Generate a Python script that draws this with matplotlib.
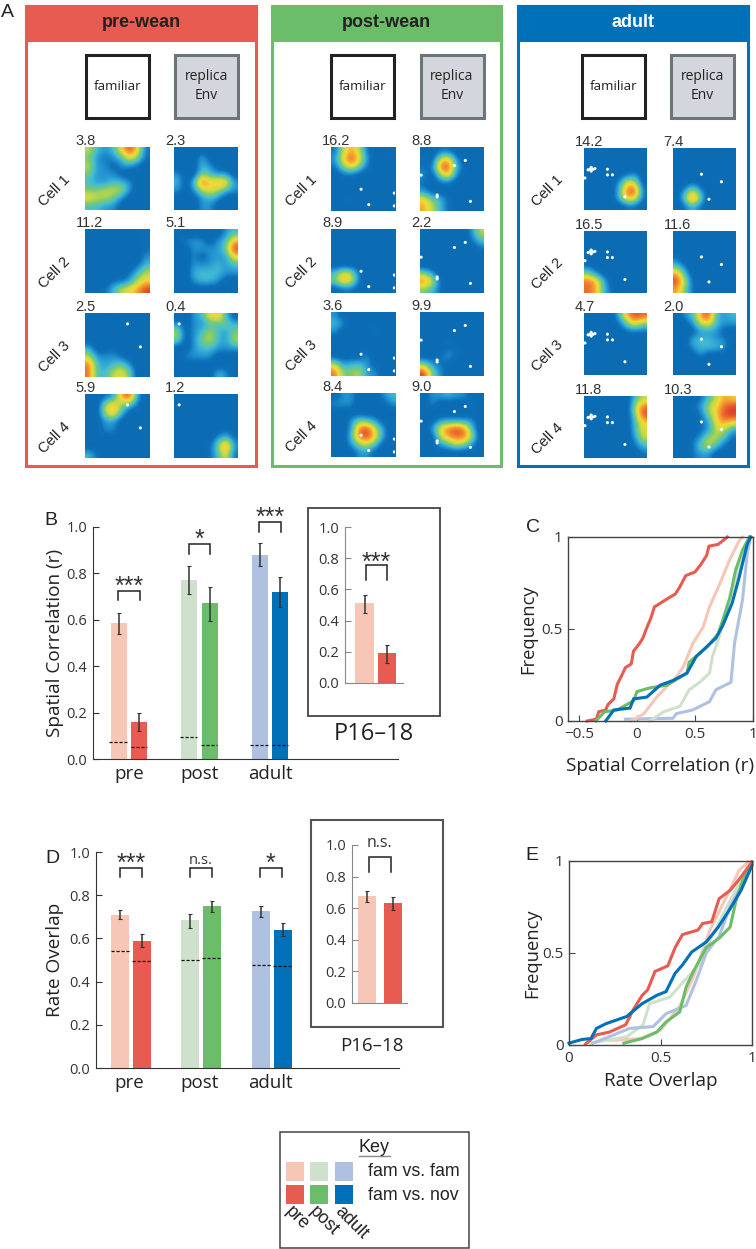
import numpy as np
import matplotlib
matplotlib.use("Agg")
import matplotlib.pyplot as plt
from matplotlib.colors import LinearSegmentedColormap
from matplotlib.patches import Rectangle

W, H = 756, 1249
AX_FONT = "Open Sans"
HV_FONT = "Liberation Sans"

RED, LRED = "#e85b50", "#f6c7b7"
GRN, LGRN = "#6cbd69", "#cfe1cd"
BLU, LBLU = "#0071b9", "#afc1e1"

# --- panel A: coarse firing-rate maps (digit = colour level)
pre_fam = [
    ["53236961", "42123641", "52202210", "42220000", "32233200", "44555200", "65542000", "33220000"],
    ["00000001", "00000001", "00000001", "00000002", "00000013", "00000135", "00011256", "00135679"],
    ["00010000", "00000000", "00000000", "00000000", "30010000", "52221000", "83234200", "83356400"],
    ["00127920", "00574310", "00573000", "00220000", "00220000", "00000000", "00000000", "31000000"],
]
pre_rep = [
    ["00000000", "00030000", "00032000", "20043220", "30396772", "20256532", "00023200", "00022000"],
    ["00000023", "02220237", "00222249", "00202226", "00222323", "00333322", "00233200", "00000000"],
    ["00236730", "20223343", "50235324", "40245325", "00233222", "02222000", "00000000", "00000320"],
    ["00000000", "00000000", "00000000", "00000000", "00000010", "00000231", "00001492", "00001361"],
]
post_fam = [
    ["15751000", "26962000", "14641000", "01100000", "00000000", "00000000", "01100000", "00000000"],
    ["00000000", "00000000", "00000000", "00000000", "00000000", "36510000", "47610000", "01100000"],
    ["20000000", "32000000", "20000200", "00000000", "00000000", "00002000", "52332000", "84452200"],
    ["02200023", "22200002", "00000000", "00243200", "00289520", "00389620", "00245300", "00022000"],
]
post_rep = [
    ["00110000", "10572000", "11893100", "20472000", "10110000", "20000000", "64310000", "75310000"],
    ["00000025", "00000013", "00000001", "00000000", "00000000", "42000000", "86100000", "43100000"],
    ["00000000", "00000000", "00000000", "00010000", "00011000", "00121000", "42110000", "94200000"],
    ["02232200", "02000020", "00000000", "00222220", "02689830", "00578850", "00235420", "00000000"],
]
adult_fam = [
    ["00000000", "00000000", "00000000", "00000120", "00002650", "00003891", "00003761", "00000110"],
    ["00000000", "00000000", "00000000", "00000000", "10000000", "42000000", "87300000", "87310000"],
    ["00003798", "00001464", "00000111", "00000000", "00000000", "00000000", "00000000", "00000000"],
    ["00000035", "00000058", "00000049", "00000036", "00000036", "00000025", "00000013", "00000001"],
]
adult_rep = [
    ["00000000", "00000000", "00000000", "00000000", "00100000", "02520000", "04940000", "01310000"],
    ["00000000", "00000000", "00000000", "10000000", "31000000", "73000000", "95100000", "74100000"],
    ["02379323", "00256322", "00022200", "00333220", "00233320", "00020000", "00000000", "00000000"],
    ["00013576", "00125689", "00014699", "00012676", "00012552", "00125531", "00145310", "00122000"],
]
pre_fam_rates = ["3.8", "11.2", "2.5", "5.9"]
pre_rep_rates = ["2.3", "5.1", "0.4", "1.2"]
post_fam_rates = ["16.2", "8.9", "3.6", "8.4"]
post_rep_rates = ["8.8", "2.2", "9.9", "9.0"]
adult_fam_rates = ["14.2", "16.5", "4.7", "11.8"]
adult_rep_rates = ["7.4", "11.6", "2.0", "10.3"]

# unvisited pixels, as fractions of the map
post_fam_holes = [(.47, .66), (.59, .90), (.99, .72), (.99, .92)]
post_rep_holes = [(.53, .29), (.70, .21), (.01, .44), (.26, .75), (.26, .78), (.78, .85)]
adult_fam_holes = [(.07, .35), (.10, .34), (.12, .31), (.12, .37), (.15, .34), (.18, .33),
                   (.38, .34), (.38, .43), (.46, .43), (.02, .48), (.66, .78)]
adult_rep_holes = [(.46, .42), (.78, .54), (.58, .82)]
pre_holes_fam = [(.67, .17), (.87, .53)]
pre_holes_rep = [(.08, .17)]

# --- panel B
groups = ["pre", "post", "adult"]
spatial_fam = [0.585, 0.77, 0.88]
spatial_fam_lo = [0.54, 0.71, 0.83]
spatial_fam_hi = [0.63, 0.83, 0.93]
spatial_nov = [0.16, 0.67, 0.72]
spatial_nov_lo = [0.12, 0.595, 0.655]
spatial_nov_hi = [0.20, 0.74, 0.785]
spatial_chance_fam = [0.075, 0.095, 0.063]
spatial_chance_nov = [0.055, 0.063, 0.060]
spatial_sig = ["***", "*", "***"]
spatial_inset = [0.51, 0.19]
spatial_inset_lo = [0.45, 0.13]
spatial_inset_hi = [0.565, 0.245]

# --- panel D
overlap_fam = [0.71, 0.685, 0.725]
overlap_fam_lo = [0.69, 0.65, 0.70]
overlap_fam_hi = [0.73, 0.715, 0.75]
overlap_nov = [0.59, 0.75, 0.64]
overlap_nov_lo = [0.56, 0.72, 0.61]
overlap_nov_hi = [0.62, 0.775, 0.67]
overlap_chance_fam = [0.54, 0.50, 0.475]
overlap_chance_nov = [0.495, 0.51, 0.47]
overlap_sig = ["***", "n.s.", "*"]
overlap_inset = [0.68, 0.63]
overlap_inset_lo = [0.64, 0.59]
overlap_inset_hi = [0.71, 0.67]

# --- panel C cumulative curves
c_lred_x = [-0.05, 0.06, 0.17, 0.34, 0.40, 0.48, 0.57, 0.625, 0.71, 0.795, 0.88, 0.91]
c_lred_y = [0, 0.04, 0.13, 0.24, 0.295, 0.42, 0.51, 0.62, 0.74, 0.87, 0.98, 1]
c_lgrn_x = [0.11, 0.23, 0.37, 0.45, 0.54, 0.625, 0.65, 0.70, 0.80, 0.88, 0.97]
c_lgrn_y = [0, 0.05, 0.08, 0.17, 0.21, 0.26, 0.35, 0.44, 0.66, 0.84, 1]
c_lblu_x = [-0.10, 0.31, 0.34, 0.48, 0.625, 0.68, 0.81, 0.84, 0.91, 0.95, 0.98]
c_lblu_y = [0.01, 0.015, 0.04, 0.06, 0.105, 0.17, 0.21, 0.42, 0.66, 0.91, 1]
c_red_x = [-0.43, -0.35, -0.33, -0.27, -0.25, -0.2, -0.17, -0.13, -0.1, -0.05, -0.03, 0.02, 0.05, 0.08,
           0.12, 0.15, 0.25, 0.33, 0.37, 0.42, 0.5, 0.55, 0.6, 0.62, 0.7, 0.78]
c_red_y = [0, 0.01, 0.05, 0.06, 0.09, 0.12, 0.2, 0.25, 0.29, 0.31, 0.38, 0.42, 0.45, 0.5,
           0.56, 0.62, 0.66, 0.69, 0.73, 0.79, 0.81, 0.85, 0.9, 0.95, 0.96, 1.0]
c_grn_x = [-0.355, -0.28, -0.17, -0.03, 0, 0.11, 0.26, 0.43, 0.45, 0.6, 0.7, 0.74, 0.8, 0.85, 0.91, 0.97]
c_grn_y = [0, 0.05, 0.06, 0.11, 0.16, 0.18, 0.195, 0.26, 0.32, 0.40, 0.475, 0.55, 0.67, 0.82, 0.93, 1]
c_blu_x = [-0.27, -0.2, -0.06, -0.03, 0.085, 0.2, 0.31, 0.43, 0.51, 0.68, 0.74, 0.82, 0.88, 0.95, 0.98]
c_blu_y = [0, 0.06, 0.07, 0.12, 0.13, 0.195, 0.22, 0.26, 0.35, 0.45, 0.52, 0.64, 0.78, 0.96, 1]

# --- panel E cumulative curves
e_lred_x = [0.22, 0.39, 0.5, 0.605, 0.68, 0.77, 0.86, 0.93, 0.98]
e_lred_y = [0.025, 0.035, 0.08, 0.21, 0.37, 0.625, 0.805, 0.95, 0.995]
e_lgrn_x = [0.115, 0.315, 0.405, 0.44, 0.55, 0.64, 0.715, 0.77, 0.84, 0.93, 1]
e_lgrn_y = [0.01, 0.045, 0.11, 0.225, 0.26, 0.36, 0.44, 0.57, 0.705, 0.88, 0.995]
e_lblu_x = [0.13, 0.22, 0.33, 0.46, 0.53, 0.64, 0.695, 0.75, 0.82, 0.88, 0.95, 1]
e_lblu_y = [0.01, 0.045, 0.09, 0.10, 0.17, 0.215, 0.35, 0.5, 0.59, 0.75, 0.88, 0.995]
e_red_x = [0.09, 0.15, 0.22, 0.31, 0.35, 0.40, 0.43, 0.47, 0.54, 0.58, 0.62, 0.705, 0.73, 0.78, 0.82, 0.88, 0.93, 1]
e_red_y = [0.005, 0.055, 0.07, 0.11, 0.19, 0.27, 0.30, 0.40, 0.43, 0.53, 0.60, 0.625, 0.66, 0.67, 0.795, 0.84, 0.90, 0.995]
e_grn_x = [0.3, 0.4, 0.48, 0.53, 0.605, 0.64, 0.68, 0.75, 0.82, 0.88, 0.915, 0.95, 1]
e_grn_y = [0.01, 0.035, 0.07, 0.125, 0.18, 0.315, 0.40, 0.53, 0.58, 0.64, 0.795, 0.895, 0.985]
e_blu_x = [0, 0.07, 0.12, 0.15, 0.2, 0.315, 0.4, 0.48, 0.53, 0.58, 0.62, 0.67, 0.75, 0.815, 0.88, 0.94, 1]
e_blu_y = [0.01, 0.03, 0.035, 0.09, 0.115, 0.155, 0.225, 0.27, 0.29, 0.39, 0.435, 0.505, 0.56, 0.64, 0.74, 0.84, 0.975]

# low levels stay close to the blue background so the fields keep tight edges
rate_cmap = LinearSegmentedColormap.from_list(
    "rate", ["#0b6bb3", "#0d70b8", "#2496d2", "#44bed2", "#7cca70",
             "#c4da48", "#f2d838", "#f4a030", "#ec6a2c", "#d83c2c"])


def pax(x0, y0, x1, y1, **kw):
    # axes placed by picture pixels (y counted from the top)
    return fig.add_axes([x0 / W, 1 - y1 / H, (x1 - x0) / W, (y1 - y0) / H], **kw)


def draw_map(x0, y0, size, rows, rate, holes, rate_dx):
    ax = pax(x0, y0, x0 + size, y0 + size)
    grid = np.array([[int(c) for c in r] for r in rows], dtype=float)
    ax.imshow(grid, cmap=rate_cmap, vmin=0, vmax=9, interpolation="bicubic",
              aspect="auto", extent=(0, 1, 1, 0))
    if holes:
        hx, hy = zip(*holes)
        ax.scatter(hx, hy, s=5, color="white", edgecolors="none", clip_on=True, zorder=3)
    ax.set_xlim(0, 1)
    ax.set_ylim(1, 0)
    ax.axis("off")
    page.text(x0 + rate_dx, y0 - 6, rate, fontsize=10.5, family=HV_FONT, color="#333333",
              ha="left", va="center")


def draw_condition(name, x0, x1, colour, txt_colour, fam_x, rep_x, box_dx, tops, size, fam, rep,
                   fam_rates, rep_rates, fam_holes, rep_holes, cell_x):
    page.add_patch(Rectangle((x0, 6), x1 - x0, 460, fc="white", ec=colour, lw=2.2))
    page.add_patch(Rectangle((x0, 6), x1 - x0, 34, fc=colour, ec=colour, lw=2.2))
    page.text((x0 + x1) / 2, 22, name, fontsize=13, fontweight="bold", family=HV_FONT,
              color=txt_colour, ha="center", va="center")
    page.add_patch(Rectangle((fam_x + box_dx + 1, 55), 63, 63, fc="white", ec="#222222", lw=2.2))
    page.add_patch(Rectangle((rep_x + box_dx + 1, 55), 63, 63, fc="#d3d7dd", ec="#6c7579", lw=2.2))
    page.text(fam_x + box_dx + 32.5, 86, "familiar", fontsize=9.7, family=AX_FONT,
              color="#222222", ha="center", va="center")
    page.text(rep_x + box_dx + 32.5, 86, "replica\nEnv", fontsize=10, family=AX_FONT,
              color="#222222", ha="center", va="center", linespacing=1.35)
    for i, top in enumerate(tops):
        fh = fam_holes[i] if isinstance(fam_holes, dict) else fam_holes
        rh = rep_holes[i] if isinstance(rep_holes, dict) else rep_holes
        draw_map(fam_x, top, size, fam[i], fam_rates[i], fh, -9)
        draw_map(rep_x, top, size, rep[i], rep_rates[i], rh, -9)
        page.text(cell_x, top + size / 2 + 12, f"Cell {i + 1}", fontsize=10.5, family=HV_FONT,
                  color="#222222", rotation=45, ha="center", va="center")


def style_bar_axes(ax, spine_col):
    for side in ("top", "right"):
        ax.spines[side].set_visible(False)
    ax.spines["left"].set_color(spine_col)
    ax.spines["bottom"].set_color(spine_col)
    ax.patch.set_alpha(0)
    ax.set_ylim(0, 1)
    ax.set_yticks([0, 0.2, 0.4, 0.6, 0.8, 1.0])
    ax.set_yticklabels(["0.0", "0.2", "0.4", "0.6", "0.8", "1.0"], fontsize=10.5,
                       family=AX_FONT, color="#333333")
    ax.tick_params(axis="y", direction="in", length=4, width=0.8, color=spine_col, pad=4)


def bracket(ax, x1, x2, y_low, y_top, label, star_gap, ns_gap, ns_size=10.5):
    ax.plot([x1, x1, x2, x2], [y_low, y_top, y_top, y_low], color="#222222", lw=1.1,
            clip_on=False, solid_joinstyle="miter")
    mid = (x1 + x2) / 2
    if label == "n.s.":
        ax.text(mid, y_top + ns_gap, label, fontsize=ns_size, family=AX_FONT, color="#333333",
                ha="center", va="baseline", clip_on=False)
    else:
        ax.text(mid, y_top - star_gap, label, fontsize=18, family=HV_FONT, color="#333333",
                ha="center", va="baseline", clip_on=False)


def draw_bars(ax, xs, w, values, lo, hi, colours, err_w=1.1):
    for x, v, a, b, c in zip(xs, values, lo, hi, colours):
        ax.bar(x, v, width=w, color=c, linewidth=0)
        ax.errorbar(x, v, yerr=[[v - a], [b - v]], color="#333333", lw=err_w, capsize=1.2,
                    capthick=0.8)


def draw_cdf(ax, curves, lw=2.2):
    for xs, ys, c in curves:
        ax.plot(xs, ys, color=c, lw=lw, solid_joinstyle="miter", clip_on=False)
    for side in ax.spines.values():
        side.set_color("#444444")
        side.set_linewidth(1.0)
    ax.set_ylim(0, 1)
    ax.set_yticks([0, 0.5, 1])
    ax.set_yticklabels(["0", "0.5", "1"], fontsize=11, family=AX_FONT, color="#333333")
    ax.tick_params(direction="in", length=4, width=0.8, color="#444444", pad=4)


fig = plt.figure(figsize=(W / 100, H / 100), dpi=100)
page = fig.add_axes([0, 0, 1, 1], zorder=0)
page.set_xlim(0, W)
page.set_ylim(H, 0)
page.axis("off")

for letter, lx, ly in [("A", 7, 12), ("B", 51, 520), ("C", 533, 527), ("D", 52, 858), ("E", 532, 855)]:
    page.text(lx, ly, letter, fontsize=14, family=HV_FONT, color="#222222", ha="center", va="center")

draw_condition("pre-wean", 26, 256, RED, "#222222", 84.7, 174, 0, [146.5, 229, 313, 394], 64,
               pre_fam, pre_rep, pre_fam_rates, pre_rep_rates,
               {0: [], 1: [], 2: pre_holes_fam, 3: pre_holes_fam},
               {0: [], 1: [], 2: pre_holes_rep, 3: pre_holes_rep}, 54)
draw_condition("post-wean", 272, 501, GRN, "#222222", 331, 420.5, -1, [147, 229, 312, 393], 64,
               post_fam, post_rep, post_fam_rates, post_rep_rates, post_fam_holes, post_rep_holes, 301)
draw_condition("adult", 518, 748, BLU, "white", 583.7, 672.7, -3, [148, 230.7, 313, 395.7], 62.5,
               adult_fam, adult_rep, adult_fam_rates, adult_rep_rates, adult_fam_holes, adult_rep_holes, 547)

# --- B
group_cx = np.array([129.0, 199.5, 270.0])
ax_b = pax(93, 526.7, 398, 759.3)
ax_b.set_xlim(93, 398)
style_bar_axes(ax_b, "#333333")
draw_bars(ax_b, group_cx - 10.2, 16.2, spatial_fam, spatial_fam_lo, spatial_fam_hi, [LRED, LGRN, LBLU])
draw_bars(ax_b, group_cx + 10.2, 16.2, spatial_nov, spatial_nov_lo, spatial_nov_hi, [RED, GRN, BLU])
for cx, a, b in zip(group_cx, spatial_chance_fam, spatial_chance_nov):
    ax_b.plot([cx - 20, cx - 2], [a, a], color="#111111", lw=0.9, ls=(0, (2.5, 1.5)))
    ax_b.plot([cx + 2, cx + 18], [b, b], color="#111111", lw=0.9, ls=(0, (2.5, 1.5)))
ax_b.set_xticks(group_cx)
ax_b.set_xticklabels(groups, fontsize=13.5, family=AX_FONT, color="#222222")
ax_b.tick_params(axis="x", length=0, pad=4)
ax_b.set_ylabel("Spatial Correlation (r)", fontsize=13.7, family=AX_FONT, color="#222222", labelpad=2)
for cx, low, top, lab in zip(group_cx - 11, [0.685, 0.883, 0.978], [0.725, 0.924, 1.02], spatial_sig):
    bracket(ax_b, cx, cx + 22, low, top, lab, 0.012, 0.02)

page.add_patch(Rectangle((308, 508), 132, 208, fc="white", ec="#444444", lw=1.3, zorder=1))
page.text(374, 734, "P16–18", fontsize=17, family=AX_FONT, color="#222222", ha="center", va="center")
ax_bi = pax(345, 527, 403, 683, zorder=2)
ax_bi.set_xlim(345, 403)
style_bar_axes(ax_bi, "#888888")
draw_bars(ax_bi, [364.5, 387], 18.5, spatial_inset, spatial_inset_lo, spatial_inset_hi, [LRED, RED])
ax_bi.set_xticks([])
bracket(ax_bi, 365.5, 387.5, 0.66, 0.755, "***", 0.03, 0.02)

# --- D
ax_d = pax(96, 852, 399, 1068)
ax_d.set_xlim(96, 399)
style_bar_axes(ax_d, "#333333")
group_cx_d = np.array([131.0, 201.3, 272.0])
draw_bars(ax_d, group_cx_d - 11, 18, overlap_fam, overlap_fam_lo, overlap_fam_hi, [LRED, LGRN, LBLU])
draw_bars(ax_d, group_cx_d + 11, 18, overlap_nov, overlap_nov_lo, overlap_nov_hi, [RED, GRN, BLU])
for cx, a, b in zip(group_cx_d, overlap_chance_fam, overlap_chance_nov):
    ax_d.plot([cx - 20, cx - 1], [a, a], color="#111111", lw=0.9, ls=(0, (2.5, 1.5)))
    ax_d.plot([cx + 1, cx + 21], [b, b], color="#111111", lw=0.9, ls=(0, (2.5, 1.5)))
ax_d.set_xticks(group_cx_d - 2)
ax_d.set_xticklabels(groups, fontsize=13.5, family=AX_FONT, color="#222222")
ax_d.tick_params(axis="x", length=0, pad=4)
ax_d.set_ylabel("Rate Overlap", fontsize=13.7, family=AX_FONT, color="#222222", labelpad=4)
for cx, lab in zip([120, 189.5, 259.5], overlap_sig):
    bracket(ax_d, cx, cx + 22, 0.885, 0.925, lab, 0.012, 0.02)

page.add_patch(Rectangle((311, 820), 132, 207, fc="white", ec="#555555", lw=1.5, zorder=1))
page.text(372, 1046, "P16–18", fontsize=13.5, family=AX_FONT, color="#222222", ha="center", va="center")
ax_di = pax(352, 845, 407, 1003, zorder=2)
ax_di.set_xlim(352, 407)
style_bar_axes(ax_di, "#888888")
draw_bars(ax_di, [367, 393], 18.5, overlap_inset, overlap_inset_lo, overlap_inset_hi, [LRED, RED])
ax_di.set_xticks([])
bracket(ax_di, 368.5, 391, 0.83, 0.925, "n.s.", 0, 0.06, ns_size=11.5)

# --- C
ax_c = pax(568, 537, 753, 721)
ax_c.set_xlim(-0.595, 1.0)
draw_cdf(ax_c, [(c_lblu_x, c_lblu_y, LBLU), (c_lgrn_x, c_lgrn_y, LGRN), (c_lred_x, c_lred_y, LRED),
                (c_red_x, c_red_y, RED), (c_grn_x, c_grn_y, GRN), (c_blu_x, c_blu_y, BLU)])
ax_c.set_xticks([-0.5, 0, 0.5, 1])
ax_c.set_xticklabels(["−0.5", "0", "0.5", "1"], fontsize=11, family=AX_FONT, color="#333333")
ax_c.set_xlabel("Spatial Correlation (r)", fontsize=13.7, family=AX_FONT, color="#222222", labelpad=11)
ax_c.set_ylabel("Frequency", fontsize=13.2, family=AX_FONT, color="#222222", labelpad=3)

# --- E
ax_e = pax(569, 861, 752, 1045)
ax_e.set_xlim(0, 1)
draw_cdf(ax_e, [(e_lred_x, e_lred_y, LRED), (e_lgrn_x, e_lgrn_y, LGRN), (e_lblu_x, e_lblu_y, LBLU),
                (e_grn_x, e_grn_y, GRN), (e_red_x, e_red_y, RED), (e_blu_x, e_blu_y, BLU)])
ax_e.set_xticks([0, 0.5, 1])
ax_e.set_xticklabels(["0", "0.5", "1"], fontsize=11, family=AX_FONT, color="#333333")
ax_e.set_xlabel("Rate Overlap", fontsize=13.6, family=AX_FONT, color="#222222", labelpad=5)
ax_e.set_ylabel("Frequency", fontsize=13.2, family=AX_FONT, color="#222222", labelpad=1)

# --- key
page.add_patch(Rectangle((280, 1132), 189, 116, fc="white", ec="#444444", lw=1.1))
page.text(374, 1147, "Key", fontsize=13, family=HV_FONT, color="#222222", ha="center", va="center")
page.plot([359, 390], [1155.5, 1155.5], color="#888888", lw=1.0)
for sx, light, dark, lab in zip([286, 310, 335], [LRED, LGRN, LBLU], [RED, GRN, BLU], groups):
    page.add_patch(Rectangle((sx, 1162), 18, 18.5, fc=light, ec="none"))
    page.add_patch(Rectangle((sx, 1185), 18, 18.5, fc=dark, ec="none"))
    page.text(sx + 2, 1209, lab, fontsize=13, family=HV_FONT, color="#222222", rotation=-45,
              rotation_mode="anchor", ha="left", va="center")
page.text(368, 1171, "fam vs. fam", fontsize=12.8, family=HV_FONT, color="#222222", ha="left", va="center")
page.text(368, 1195, "fam vs. nov", fontsize=12.8, family=HV_FONT, color="#222222", ha="left", va="center")

fig.savefig("out.png", dpi=100)
